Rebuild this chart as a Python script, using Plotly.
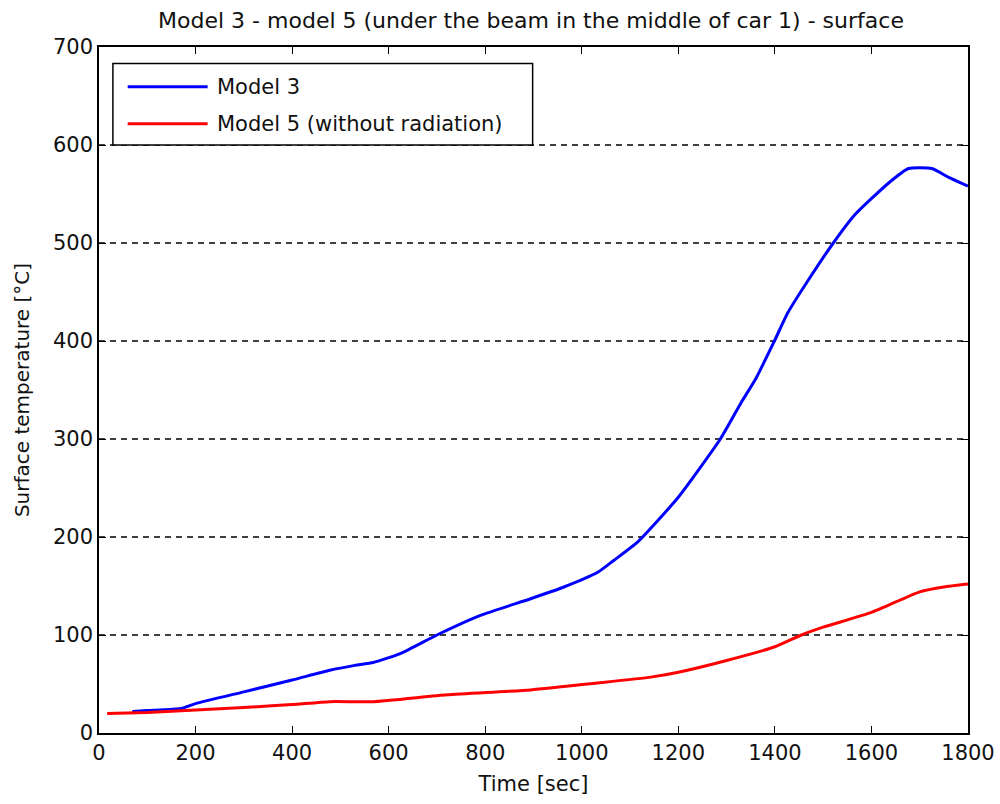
import plotly.graph_objects as go

# Surface temperature histories (time in s, temperature in °C)
model3_time = [69, 100, 170, 200, 300, 400, 478, 530, 568, 624, 700, 790, 894, 963,
               1033, 1066, 1116, 1199, 1287, 1330, 1361, 1399, 1427, 1469, 1521,
               1566, 1635, 1677, 1725, 1760, 1800]
model3_temp = [22, 23, 25, 30, 42, 54, 64, 69, 72, 81, 100, 120, 137, 149,
               164, 176, 195, 240, 300, 337, 362, 400, 429, 462, 500,
               529, 561, 576, 576, 567, 558]

model5_time = [17, 100, 200, 300, 400, 478, 568, 721, 894, 1033, 1143, 1200, 1300,
               1400, 1455, 1500, 1600, 1700, 1750, 1800]
model5_temp = [20, 21, 23.5, 26, 29, 32, 32, 39, 44, 51, 57, 62, 74,
               88, 100, 108, 123, 144, 149, 152]

series_names = ["Model 3", "Model 5 (without radiation)"]
series_colors = ["#0000ff", "#ff0000"]

x_ticks = list(range(0, 1801, 200))
y_ticks = list(range(0, 701, 100))

FONT = "DejaVu Sans, Verdana, sans-serif"
INK = "#111111"

fig = go.Figure()
fig.add_trace(go.Scatter(x=model3_time, y=model3_temp, mode="lines",
                         line=dict(color=series_colors[0], width=3,
                                   shape="spline", smoothing=0.5),
                         name=series_names[0], showlegend=False))
fig.add_trace(go.Scatter(x=model5_time, y=model5_temp, mode="lines",
                         line=dict(color=series_colors[1], width=3,
                                   shape="spline", smoothing=0.5),
                         name=series_names[1], showlegend=False))

# dashed horizontal grid lines
for v in y_ticks[1:-1]:
    fig.add_shape(type="line", xref="paper", yref="y", x0=0, x1=1, y0=v, y1=v,
                  line=dict(color="black", width=1.3, dash="6px,5px"), layer="below")

# boxed legend in the upper-left corner
fig.add_shape(type="rect", xref="paper", yref="paper",
              x0=0.016, x1=0.499, y0=0.857, y1=0.976,
              line=dict(color="black", width=1.5), fillcolor="white")
for i, (name, col) in enumerate(zip(series_names, series_colors)):
    yy = 0.942 - i * 0.054
    fig.add_shape(type="line", xref="paper", yref="paper",
                  x0=0.033, x1=0.125, y0=yy, y1=yy,
                  line=dict(color=col, width=3))
    fig.add_annotation(xref="paper", yref="paper", x=0.134, y=yy, text=name,
                       showarrow=False, xanchor="left", yanchor="middle",
                       font=dict(family=FONT, size=21, color=INK))

axis_common = dict(showline=True, linecolor="black", linewidth=1.5, mirror="ticks",
                   ticks="inside", ticklen=7, tickwidth=1.3, tickcolor="black",
                   showgrid=False, zeroline=False, automargin=False,
                   tickfont=dict(family=FONT, size=21, color=INK))

fig.update_xaxes(range=[0, 1800], tickvals=x_ticks,
                 title=dict(text="Time [sec]", font=dict(family=FONT, size=21, color=INK),
                            standoff=12),
                 **axis_common)
fig.update_yaxes(range=[0, 700], tickvals=y_ticks,
                 title=dict(text="Surface temperature [°C]",
                            font=dict(family=FONT, size=20, color=INK), standoff=18),
                 **axis_common)

fig.update_layout(
    width=1000, height=804,
    margin=dict(l=99, r=32, t=47, b=71),
    paper_bgcolor="white", plot_bgcolor="white",
    title=dict(text="Model 3 - model 5 (under the beam in the middle of car 1) - surface",
               x=0.531, xanchor="center", y=0.975, yanchor="middle",
               font=dict(family=FONT, size=22, color=INK)),
    showlegend=False,
)

fig.write_html("out.html")
